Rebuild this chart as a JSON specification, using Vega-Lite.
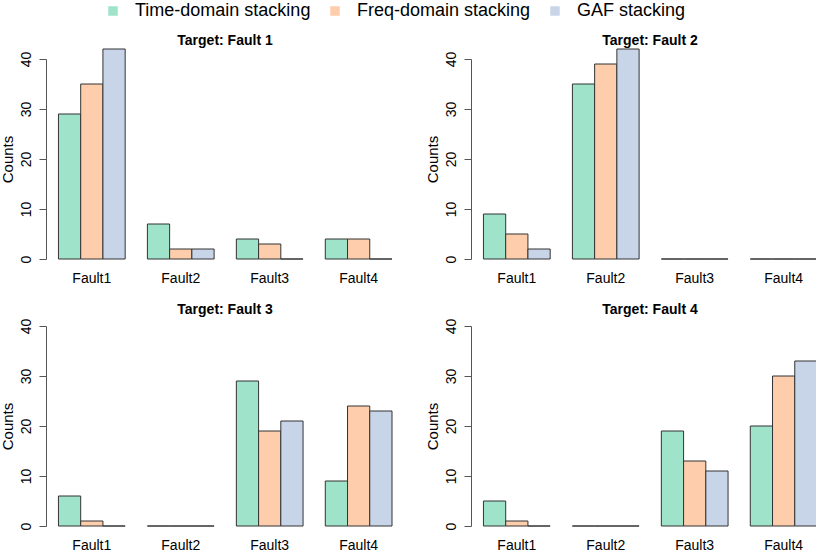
{
  "$schema": "https://vega.github.io/schema/vega-lite/v6.json",
  "padding": {"top": 2, "left": 0, "right": 0, "bottom": 0},
  "background": "white",
  "data": {
    "values": [
      {"target": "Fault 1", "fault": "Fault1", "method": "Time-domain stacking", "count": 29},
      {"target": "Fault 1", "fault": "Fault1", "method": "Freq-domain stacking", "count": 35},
      {"target": "Fault 1", "fault": "Fault1", "method": "GAF stacking", "count": 42},
      {"target": "Fault 1", "fault": "Fault2", "method": "Time-domain stacking", "count": 7},
      {"target": "Fault 1", "fault": "Fault2", "method": "Freq-domain stacking", "count": 2},
      {"target": "Fault 1", "fault": "Fault2", "method": "GAF stacking", "count": 2},
      {"target": "Fault 1", "fault": "Fault3", "method": "Time-domain stacking", "count": 4},
      {"target": "Fault 1", "fault": "Fault3", "method": "Freq-domain stacking", "count": 3},
      {"target": "Fault 1", "fault": "Fault3", "method": "GAF stacking", "count": 0},
      {"target": "Fault 1", "fault": "Fault4", "method": "Time-domain stacking", "count": 4},
      {"target": "Fault 1", "fault": "Fault4", "method": "Freq-domain stacking", "count": 4},
      {"target": "Fault 1", "fault": "Fault4", "method": "GAF stacking", "count": 0},
      {"target": "Fault 2", "fault": "Fault1", "method": "Time-domain stacking", "count": 9},
      {"target": "Fault 2", "fault": "Fault1", "method": "Freq-domain stacking", "count": 5},
      {"target": "Fault 2", "fault": "Fault1", "method": "GAF stacking", "count": 2},
      {"target": "Fault 2", "fault": "Fault2", "method": "Time-domain stacking", "count": 35},
      {"target": "Fault 2", "fault": "Fault2", "method": "Freq-domain stacking", "count": 39},
      {"target": "Fault 2", "fault": "Fault2", "method": "GAF stacking", "count": 42},
      {"target": "Fault 2", "fault": "Fault3", "method": "Time-domain stacking", "count": 0},
      {"target": "Fault 2", "fault": "Fault3", "method": "Freq-domain stacking", "count": 0},
      {"target": "Fault 2", "fault": "Fault3", "method": "GAF stacking", "count": 0},
      {"target": "Fault 2", "fault": "Fault4", "method": "Time-domain stacking", "count": 0},
      {"target": "Fault 2", "fault": "Fault4", "method": "Freq-domain stacking", "count": 0},
      {"target": "Fault 2", "fault": "Fault4", "method": "GAF stacking", "count": 0},
      {"target": "Fault 3", "fault": "Fault1", "method": "Time-domain stacking", "count": 6},
      {"target": "Fault 3", "fault": "Fault1", "method": "Freq-domain stacking", "count": 1},
      {"target": "Fault 3", "fault": "Fault1", "method": "GAF stacking", "count": 0},
      {"target": "Fault 3", "fault": "Fault2", "method": "Time-domain stacking", "count": 0},
      {"target": "Fault 3", "fault": "Fault2", "method": "Freq-domain stacking", "count": 0},
      {"target": "Fault 3", "fault": "Fault2", "method": "GAF stacking", "count": 0},
      {"target": "Fault 3", "fault": "Fault3", "method": "Time-domain stacking", "count": 29},
      {"target": "Fault 3", "fault": "Fault3", "method": "Freq-domain stacking", "count": 19},
      {"target": "Fault 3", "fault": "Fault3", "method": "GAF stacking", "count": 21},
      {"target": "Fault 3", "fault": "Fault4", "method": "Time-domain stacking", "count": 9},
      {"target": "Fault 3", "fault": "Fault4", "method": "Freq-domain stacking", "count": 24},
      {"target": "Fault 3", "fault": "Fault4", "method": "GAF stacking", "count": 23},
      {"target": "Fault 4", "fault": "Fault1", "method": "Time-domain stacking", "count": 5},
      {"target": "Fault 4", "fault": "Fault1", "method": "Freq-domain stacking", "count": 1},
      {"target": "Fault 4", "fault": "Fault1", "method": "GAF stacking", "count": 0},
      {"target": "Fault 4", "fault": "Fault2", "method": "Time-domain stacking", "count": 0},
      {"target": "Fault 4", "fault": "Fault2", "method": "Freq-domain stacking", "count": 0},
      {"target": "Fault 4", "fault": "Fault2", "method": "GAF stacking", "count": 0},
      {"target": "Fault 4", "fault": "Fault3", "method": "Time-domain stacking", "count": 19},
      {"target": "Fault 4", "fault": "Fault3", "method": "Freq-domain stacking", "count": 13},
      {"target": "Fault 4", "fault": "Fault3", "method": "GAF stacking", "count": 11},
      {"target": "Fault 4", "fault": "Fault4", "method": "Time-domain stacking", "count": 20},
      {"target": "Fault 4", "fault": "Fault4", "method": "Freq-domain stacking", "count": 30},
      {"target": "Fault 4", "fault": "Fault4", "method": "GAF stacking", "count": 33}
    ]
  },
  "columns": 2,
  "spacing": {"row": 67, "column": 79},
  "bounds": "flush",
  "concat": [
    {
      "title": "Target: Fault 1",
      "width": 346,
      "height": 200,
      "transform": [{"filter": "datum.target == 'Fault 1'"}],
      "mark": {"type": "bar", "stroke": "#333333", "strokeWidth": 1},
      "encoding": {
        "x": {"field": "fault", "type": "nominal", "title": null, "scale": {"paddingInner": 0.25, "paddingOuter": 0.07, "align": 1}},
        "xOffset": {"field": "method", "sort": ["Time-domain stacking", "Freq-domain stacking", "GAF stacking"]},
        "y": {"field": "count", "type": "quantitative", "title": "Counts", "scale": {"domain": [0, 40], "nice": false}},
        "color": {
          "field": "method", "type": "nominal", "title": null,
          "sort": ["Time-domain stacking", "Freq-domain stacking", "GAF stacking"],
          "scale": {"domain": ["Time-domain stacking", "Freq-domain stacking", "GAF stacking"], "range": ["#9ee3ca", "#fdcdac", "#c8d5e8"]},
          "legend": {"orient": "none", "direction": "horizontal", "legendX": 58, "legendY": -57}
        }
      }
    },
    {
      "title": "Target: Fault 2",
      "width": 346,
      "height": 200,
      "transform": [{"filter": "datum.target == 'Fault 2'"}],
      "mark": {"type": "bar", "stroke": "#333333", "strokeWidth": 1},
      "encoding": {
        "x": {"field": "fault", "type": "nominal", "title": null, "scale": {"paddingInner": 0.25, "paddingOuter": 0.07, "align": 1}},
        "xOffset": {"field": "method", "sort": ["Time-domain stacking", "Freq-domain stacking", "GAF stacking"]},
        "y": {"field": "count", "type": "quantitative", "title": "Counts", "scale": {"domain": [0, 40], "nice": false}},
        "color": {
          "field": "method", "type": "nominal", "title": null,
          "sort": ["Time-domain stacking", "Freq-domain stacking", "GAF stacking"],
          "scale": {"domain": ["Time-domain stacking", "Freq-domain stacking", "GAF stacking"], "range": ["#9ee3ca", "#fdcdac", "#c8d5e8"]},
          "legend": {"orient": "none", "direction": "horizontal", "legendX": 58, "legendY": -57}
        }
      }
    },
    {
      "title": "Target: Fault 3",
      "width": 346,
      "height": 200,
      "transform": [{"filter": "datum.target == 'Fault 3'"}],
      "mark": {"type": "bar", "stroke": "#333333", "strokeWidth": 1},
      "encoding": {
        "x": {"field": "fault", "type": "nominal", "title": null, "scale": {"paddingInner": 0.25, "paddingOuter": 0.07, "align": 1}},
        "xOffset": {"field": "method", "sort": ["Time-domain stacking", "Freq-domain stacking", "GAF stacking"]},
        "y": {"field": "count", "type": "quantitative", "title": "Counts", "scale": {"domain": [0, 40], "nice": false}},
        "color": {
          "field": "method", "type": "nominal", "title": null,
          "sort": ["Time-domain stacking", "Freq-domain stacking", "GAF stacking"],
          "scale": {"domain": ["Time-domain stacking", "Freq-domain stacking", "GAF stacking"], "range": ["#9ee3ca", "#fdcdac", "#c8d5e8"]},
          "legend": {"orient": "none", "direction": "horizontal", "legendX": 58, "legendY": -57}
        }
      }
    },
    {
      "title": "Target: Fault 4",
      "width": 346,
      "height": 200,
      "transform": [{"filter": "datum.target == 'Fault 4'"}],
      "mark": {"type": "bar", "stroke": "#333333", "strokeWidth": 1},
      "encoding": {
        "x": {"field": "fault", "type": "nominal", "title": null, "scale": {"paddingInner": 0.25, "paddingOuter": 0.07, "align": 1}},
        "xOffset": {"field": "method", "sort": ["Time-domain stacking", "Freq-domain stacking", "GAF stacking"]},
        "y": {"field": "count", "type": "quantitative", "title": "Counts", "scale": {"domain": [0, 40], "nice": false}},
        "color": {
          "field": "method", "type": "nominal", "title": null,
          "sort": ["Time-domain stacking", "Freq-domain stacking", "GAF stacking"],
          "scale": {"domain": ["Time-domain stacking", "Freq-domain stacking", "GAF stacking"], "range": ["#9ee3ca", "#fdcdac", "#c8d5e8"]},
          "legend": {"orient": "none", "direction": "horizontal", "legendX": 58, "legendY": -57}
        }
      }
    }
  ],
  "config": {
    "font": "Liberation Sans",
    "view": {"stroke": null},
    "title": {"fontSize": 14, "fontWeight": "bold", "color": "#000000", "anchor": "middle", "frame": "group", "offset": 1, "dx": 6},
    "axisX": {
      "domain": false, "ticks": false, "tickSize": 0, "grid": false,
      "labelAngle": 0, "labelFontSize": 14, "labelColor": "#000000", "labelPadding": 12
    },
    "axisY": {
      "grid": false, "values": [0, 10, 20, 30, 40],
      "domainColor": "#555555", "tickColor": "#555555", "tickSize": 7,
      "labelAngle": 270, "labelAlign": "center", "labelBaseline": "bottom",
      "labelFontSize": 14, "labelColor": "#000000", "labelPadding": 6,
      "titleFontSize": 15, "titleFontWeight": "normal", "titleColor": "#000000", "titlePadding": 4
    },
    "legend": {
      "symbolType": "square", "symbolSize": 90, "symbolStrokeWidth": 0, "symbolOpacity": 1,
      "labelFontSize": 18, "labelColor": "#000000", "labelOffset": 13, "labelLimit": 0, "columnPadding": 15,
      "padding": 0
    }
  }
}
